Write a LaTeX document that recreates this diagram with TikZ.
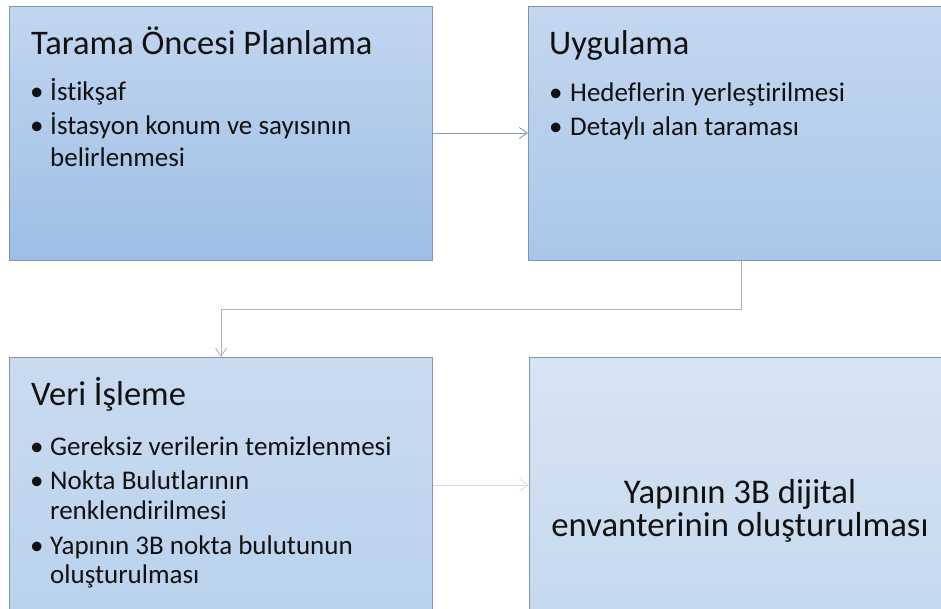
\documentclass[tikz,border=0pt]{standalone}
\usepackage{fontspec}
\setmainfont{Carlito}[Ligatures=CommonOff]
\usetikzlibrary{arrows.meta}
\definecolor{txt}{HTML}{111111}
\definecolor{boxline}{HTML}{8494AA}
\definecolor{aTop}{HTML}{C2D6EF}
\definecolor{aBot}{HTML}{9DBEE6}
\definecolor{bTop}{HTML}{C4D7EF}
\definecolor{bBot}{HTML}{A9C7EA}
\definecolor{cTop}{HTML}{CADBF0}
\definecolor{cBot}{HTML}{BAD2ED}
\definecolor{dTop}{HTML}{D7E4F3}
\definecolor{dBot}{HTML}{C5D9EF}
\definecolor{connA}{HTML}{8D9BB0}
\definecolor{connB}{HTML}{A6B2C2}
\definecolor{connC}{HTML}{D6DCE3}
\begin{document}
\begin{tikzpicture}[x=1pt,y=-1pt,
  box/.style={draw=boxline, line width=1pt, minimum width=423pt, minimum height=254pt, anchor=north west, inner sep=0pt},
  title/.style={anchor=base west, font=\fontsize{34.5}{40}\selectfont, text=txt, inner sep=0pt},
  itemtext/.style={anchor=base west, font=\fontsize{27}{32}\selectfont, text=txt, inner sep=0pt},
  center/.style={anchor=base, font=\fontsize{34.7}{40}\selectfont, text=txt, inner sep=0pt},
  conn/.style={-{Straight Barb[length=8pt,width=11pt]}, line width=0.9pt}]
\useasboundingbox (0,0) rectangle (941,609);
% boxes
\node[box, top color=aTop, bottom color=aBot] (b1) at (9,6) {};
\node[box, top color=bTop, bottom color=bBot] (b2) at (528,6) {};
\node[box, top color=cTop, bottom color=cBot] (b3) at (9,357) {};
\node[box, top color=dTop, bottom color=dBot] (b4) at (529,357) {};
% box 1 text
\node[title] (t1) at (31,55) {Tarama Öncesi Planlama};
\node[itemtext] (b1i1) at (30,101) {•};
\node[itemtext] (a1) at (50,101) {İstikşaf};
\node[itemtext] (b1i2) at (30,135) {•};
\node[itemtext] (a2) at (50,135) {İstasyon konum ve sayısının};
\node[itemtext] (a3) at (50,167) {belirlenmesi};
% box 2 text
\node[title] (t2) at (549,55) {Uygulama};
\node[itemtext] (b2i1) at (549,102) {•};
\node[itemtext] (u1) at (570,102) {Hedeflerin yerleştirilmesi};
\node[itemtext] (b2i2) at (549,136) {•};
\node[itemtext] (u2) at (570,136) {Detaylı alan taraması};
% box 3 text
\node[title] (t3) at (31,405) {Veri İşleme};
\node[itemtext] (b3i1) at (30,455) {•};
\node[itemtext] (v1) at (50,455) {Gereksiz verilerin temizlenmesi};
\node[itemtext] (b3i2) at (30,489) {•};
\node[itemtext] (v2) at (50,489) {Nokta Bulutlarının};
\node[itemtext] (v3) at (50,519) {renklendirilmesi};
\node[itemtext] (b3i3) at (30,554) {•};
\node[itemtext] (v4) at (50,554) {Yapının 3B nokta bulutunun};
\node[itemtext] (v5) at (50,583) {oluşturulması};
% box 4 text
\node[center] (y1) at (740,503) {Yapının 3B dijital};
\node[center] (y2) at (740,536) {envanterinin oluşturulması};
% connectors
\coordinate (k1) at (741,309);
\coordinate (k2) at (221,309);
\draw[conn, connA] (b1.east |- 0,133) -- (b2.west |- 0,133);
\draw[conn, connB] (b2.south -| k1) -- (k1) -- (k2) -- (k2 |- b3.north);
\draw[conn, connC] (b3.east |- 0,485) -- (b4.west |- 0,485);
\end{tikzpicture}
\end{document}
